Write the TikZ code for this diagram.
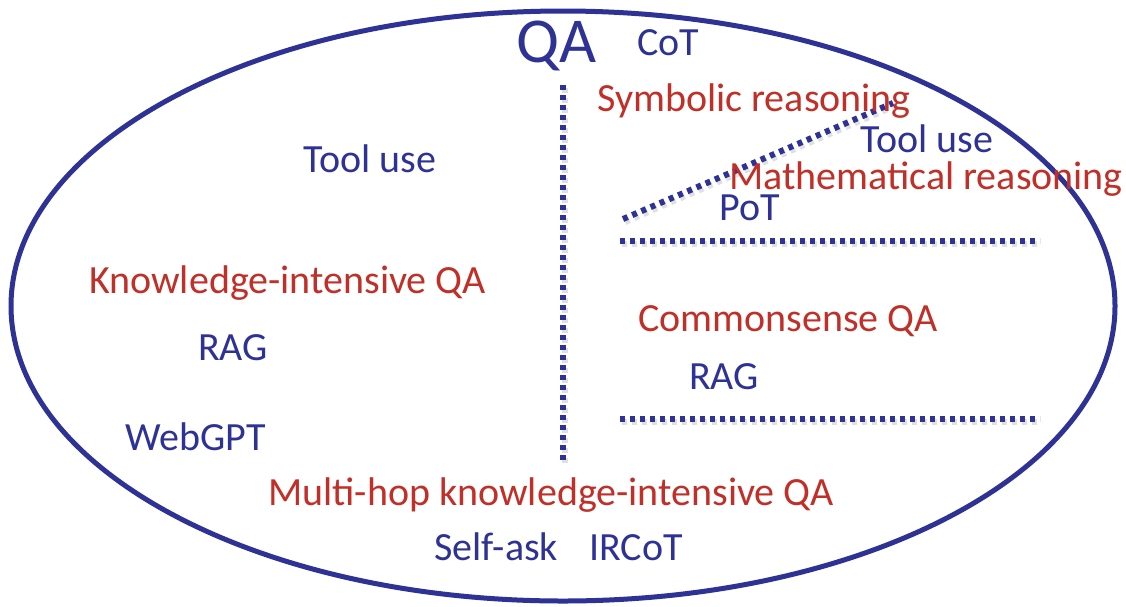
\documentclass[tikz,border=0pt]{standalone}
\usepackage{fontspec}
\setmainfont{Carlito}
\definecolor{qablue}{RGB}{46,50,148}
\definecolor{qared}{RGB}{192,48,40}
\begin{document}
\begin{tikzpicture}[x=1pt,y=-1pt,
  lbl/.style={anchor=base west,inner sep=0pt,font=\fontsize{40}{42}\selectfont},
  method/.style={lbl,text=qablue},
  task/.style={lbl,text=qared},
  divider/.style={draw=qablue,line width=6pt,dash pattern=on 5pt off 5pt},
  dividershadow/.style={draw=black!12,line width=6pt,dash pattern=on 5pt off 5pt}]
\useasboundingbox (0,0) rectangle (1126,606);
\fill[white] (0,0) rectangle (1126,606);

% outer set
\draw[qablue,line width=5pt] (563,306) ellipse [x radius=552,y radius=295];

% separator lines
\coordinate (v1) at (563,85);   \coordinate (v2) at (563,460);
\coordinate (d1) at (623,219);  \coordinate (d2) at (893,103);
\coordinate (h1a) at (620,241); \coordinate (h1b) at (1040,241);
\coordinate (h2a) at (620,419); \coordinate (h2b) at (1040,419);
\foreach \a/\b in {v1/v2,d1/d2,h1a/h1b,h2a/h2b}
  \draw[dividershadow] ([shift={(2,3)}]\a) -- ([shift={(2,3)}]\b);
\foreach \a/\b in {v1/v2,d1/d2,h1a/h1b,h2a/h2b}
  \draw[divider] (\a) -- (\b);

% labels
\node[method,font=\fontsize{64}{66}\selectfont] (qa) at (516,62) {QA};
\node[method] (cot) at (637,55) {CoT};
\node[task] (sym) at (597,111) {Symbolic reasoning};
\node[method] (toolr) at (860,152) {Tool use};
\node[task] (math) at (729,189) {Mathematical reasoning};
\node[method] (pot) at (719,220) {PoT};
\node[method] (tooll) at (303,172) {Tool use};
\node[task] (kiqa) at (89,293) {Knowledge-intensive QA};
\node[method] (ragl) at (198,360) {RAG};
\node[method] (webgpt) at (125,450) {WebGPT};
\node[task] (csqa) at (638,331) {Commonsense QA};
\node[method] (ragr) at (689,389) {RAG};
\node[task] (mhqa) at (268,505) {Multi-hop knowledge-intensive QA};
\node[method] (selfask) at (434,560) {Self-ask};
\node[method] (ircot) at (589,560) {IRCoT};
\end{tikzpicture}
\end{document}
